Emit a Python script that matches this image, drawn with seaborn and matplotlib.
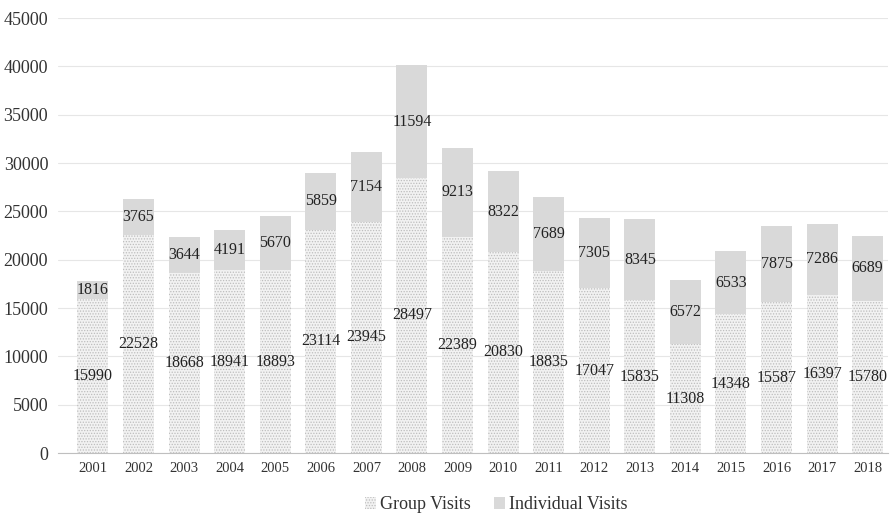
import numpy as np
import pandas as pd
import matplotlib
matplotlib.use("Agg")
import matplotlib.pyplot as plt
import seaborn as sns

# data
years = [str(y) for y in range(2001, 2019)]
group_visits = [15990, 22528, 18668, 18941, 18893, 23114, 23945, 28497, 22389,
                20830, 18835, 17047, 15835, 11308, 14348, 15587, 16397, 15780]
individual_visits = [1816, 3765, 3644, 4191, 5670, 5859, 7154, 11594, 9213,
                     8322, 7689, 7305, 8345, 6572, 6533, 7875, 7286, 6689]

df = pd.DataFrame({"year": years, "group": group_visits, "individual": individual_visits})

sns.set_style("white")
plt.rcParams["font.family"] = ["Liberation Serif", "DejaVu Serif"]
plt.rcParams["hatch.linewidth"] = 0.6
plt.rcParams["hatch.color"] = "#bdbdbd"

fig = plt.figure(figsize=(8.9, 5.15), dpi=100)
ax = fig.add_axes([0.065, 0.12, 0.933, 0.845])

sns.barplot(data=df, x="year", y="group", color="#f2f2f2", width=0.68,
            hatch="......", edgecolor="#bdbdbd", linewidth=0, ax=ax,
            label="Group Visits", saturation=1)
sns.barplot(data=df, x="year", y="individual", bottom=df["group"], color="#d9d9d9",
            width=0.68, linewidth=0, ax=ax, label="Individual Visits", saturation=1)

for i, (g, v) in enumerate(zip(group_visits, individual_visits)):
    ax.text(i, g / 2, str(g), ha="center", va="center", fontsize=11.5, color="#222222")
    ax.text(i, g + v / 2, str(v), ha="center", va="center", fontsize=11.5, color="#222222")

ax.set_ylim(0, 45000)
ax.set_yticks(np.arange(0, 45001, 5000))
ax.set_xlim(-0.77, 17.45)
ax.yaxis.grid(True, color="#e6e6e6", linewidth=0.8)
ax.set_axisbelow(True)
for s in ["top", "right", "left"]:
    ax.spines[s].set_visible(False)
ax.spines["bottom"].set_color("#bfbfbf")
ax.tick_params(axis="y", labelsize=13, colors="#333333", length=0, pad=7)
ax.tick_params(axis="x", labelsize=10.5, colors="#333333", length=0, pad=6)
ax.set_xlabel("")
ax.set_ylabel("")

ax.legend(loc="upper center", bbox_to_anchor=(0.528, -0.062), ncol=2, frameon=False,
          fontsize=13, handlelength=0.6, handleheight=0.6, handletextpad=0.2,
          columnspacing=1.3, labelcolor="#333333")

fig.savefig("out.png", dpi=100)
